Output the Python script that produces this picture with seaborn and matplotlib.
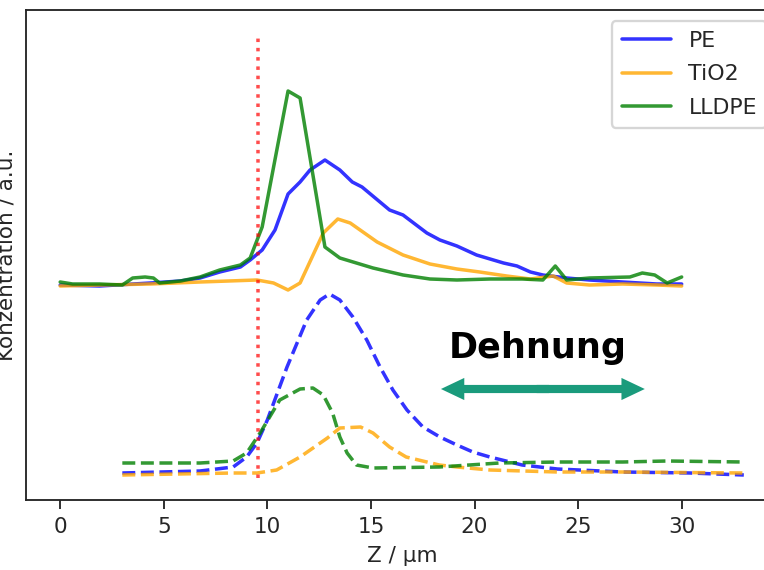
import numpy as np
import pandas as pd
import matplotlib
matplotlib.use("Agg")
import matplotlib.pyplot as plt
import seaborn as sns

# ---- data ----
pe_x = [0.0, 1.9, 4.35, 5.8, 6.75, 7.7, 8.7, 9.17, 9.75, 10.37, 11.0, 11.58, 12.06, 12.78, 13.5, 14.1,
        14.57, 15.9, 16.55, 17.7, 18.33, 19.15, 20.1, 21.4, 22.05, 22.7, 23.3, 24.45, 25.55, 27.15, 28.8, 30.0]
pe_y = [2.15, 2.14, 2.17, 2.19, 2.22, 2.28, 2.33, 2.40, 2.50, 2.70, 3.06, 3.18, 3.30, 3.40, 3.30, 3.18,
        3.13, 2.90, 2.85, 2.67, 2.60, 2.54, 2.45, 2.37, 2.34, 2.28, 2.25, 2.22, 2.20, 2.18, 2.16, 2.16]

tio2_x = [0.0, 1.9, 4.35, 6.75, 9.5, 10.3, 11.0, 11.58, 12.7, 13.4, 14.0, 15.3, 16.55, 17.85, 19.15,
          20.25, 21.55, 22.7, 23.8, 24.45, 25.55, 27.15, 28.8, 30.0]
tio2_y = [2.14, 2.15, 2.16, 2.18, 2.20, 2.17, 2.10, 2.17, 2.67, 2.81, 2.77, 2.58, 2.45, 2.36, 2.31,
          2.28, 2.24, 2.21, 2.24, 2.17, 2.15, 2.16, 2.15, 2.14]

lldpe_x = [0.0, 0.6, 1.9, 3.0, 3.5, 4.1, 4.5, 4.8, 5.8, 6.75, 7.7, 8.7, 9.17, 9.75, 11.0, 11.58, 12.78,
           13.5, 15.1, 16.55, 17.85, 19.15, 20.75, 22.3, 23.3, 23.9, 24.45, 25.55, 27.5, 28.1, 28.7, 29.3, 30.0]
lldpe_y = [2.18, 2.16, 2.16, 2.15, 2.22, 2.23, 2.22, 2.17, 2.19, 2.23, 2.30, 2.35, 2.42, 2.73, 4.09, 4.02, 2.53,
           2.42, 2.32, 2.25, 2.21, 2.20, 2.21, 2.21, 2.20, 2.34, 2.20, 2.22, 2.23, 2.27, 2.25, 2.17, 2.23]

pe_sim_x = [3.0, 6.75, 8.35, 9.0, 9.5, 10.0, 10.95, 11.9, 12.55, 13.0, 13.5, 14.13, 14.8, 15.44, 16.06,
            16.74, 17.51, 18.33, 19.15, 19.92, 20.74, 22.3, 24.0, 27.15, 30.4, 33.0]
pe_sim_y = [0.27, 0.29, 0.33, 0.43, 0.57, 0.80, 1.33, 1.80, 2.00, 2.06, 2.00, 1.83, 1.60, 1.33, 1.10,
            0.90, 0.73, 0.63, 0.55, 0.48, 0.43, 0.35, 0.31, 0.28, 0.27, 0.25]

tio2_sim_x = [3.0, 8.35, 9.5, 10.45, 11.58, 12.9, 13.5, 14.5, 15.1, 15.9, 16.7, 18.3, 19.15, 20.75,
              24.0, 27.15, 33.0]
tio2_sim_y = [0.25, 0.27, 0.27, 0.30, 0.43, 0.62, 0.72, 0.73, 0.67, 0.53, 0.43, 0.35, 0.33, 0.30,
              0.28, 0.28, 0.27]

lldpe_sim_x = [3.0, 6.75, 8.35, 9.0, 9.65, 10.6, 11.58, 12.2, 12.7, 13.15, 13.5, 13.85, 14.3, 15.1,
               18.3, 21.2, 24.0, 27.15, 29.3, 33.0]
lldpe_sim_y = [0.37, 0.37, 0.39, 0.47, 0.67, 1.00, 1.11, 1.12, 1.05, 0.87, 0.63, 0.47, 0.35, 0.32,
               0.33, 0.37, 0.38, 0.38, 0.39, 0.38]

labels = ["PE", "TiO2", "LLDPE"]
colors = ["blue", "orange", "green"]
x_ticks = [0, 5, 10, 15, 20, 25, 30]
marker_x = 9.55
arrow_text = "Dehnung"

# ---- style ----
sns.set_style("ticks")
plt.rcParams["font.family"] = ["DejaVu Sans"]
plt.rcParams["font.size"] = 9.2

DPI = 168
fig = plt.figure(figsize=(764 / DPI, 570 / DPI), dpi=DPI)
ax = fig.add_axes([26 / 764, 70 / 570, (778 - 26) / 764, (560 - 70) / 570])

solid = [(pe_x, pe_y), (tio2_x, tio2_y), (lldpe_x, lldpe_y)]
dashed = [(pe_sim_x, pe_sim_y), (tio2_sim_x, tio2_sim_y), (lldpe_sim_x, lldpe_sim_y)]

for (xs, ys), lab, c in zip(solid, labels, colors):
    df = pd.DataFrame({"x": xs, "y": ys})
    sns.lineplot(data=df, x="x", y="y", ax=ax, color=c, alpha=0.8, lw=1.5,
                 label=lab, estimator=None, sort=False)

for (xs, ys), c in zip(dashed, colors):
    df = pd.DataFrame({"x": xs, "y": ys})
    sns.lineplot(data=df, x="x", y="y", ax=ax, color=c, alpha=0.8, lw=1.5,
                 linestyle="--", estimator=None, sort=False, legend=False)

ax.vlines(marker_x, 0.22, 4.65, colors="red", linestyles=":", lw=1.5, alpha=0.7)

ax.set_xlim(-1.65, 34.65)
ax.set_ylim(0, 4.9)
ax.set_xticks(x_ticks)
ax.set_yticks([])
ax.tick_params(axis="x", labelsize=9.2, length=3.7)
ax.set_xlabel("Z / µm", fontsize=9.2)
ax.set_ylabel("Konzentration / a.u.", fontsize=9.2)
for s in ax.spines.values():
    s.set_visible(True)

ax.legend(loc="upper right", frameon=True, fontsize=9.5, handlelength=2.2,
          labelspacing=0.6, borderpad=0.45)

teal = "#1a9b7c"
ymid = 1.11
for xe, xs0 in ((18.38, 23.6), (28.22, 23.0)):
    ax.annotate("", xy=(xe, ymid), xytext=(xs0, ymid),
                arrowprops=dict(arrowstyle="simple,head_length=1.0,head_width=0.95,tail_width=0.35",
                                color=teal, mutation_scale=10, shrinkA=0, shrinkB=0, lw=0))
ax.text(23.06, 1.42, arrow_text, ha="center", va="baseline", fontsize=15,
        family=["DejaVu Sans"], fontweight="bold", color="black")

fig.savefig("out.png", dpi=DPI)
